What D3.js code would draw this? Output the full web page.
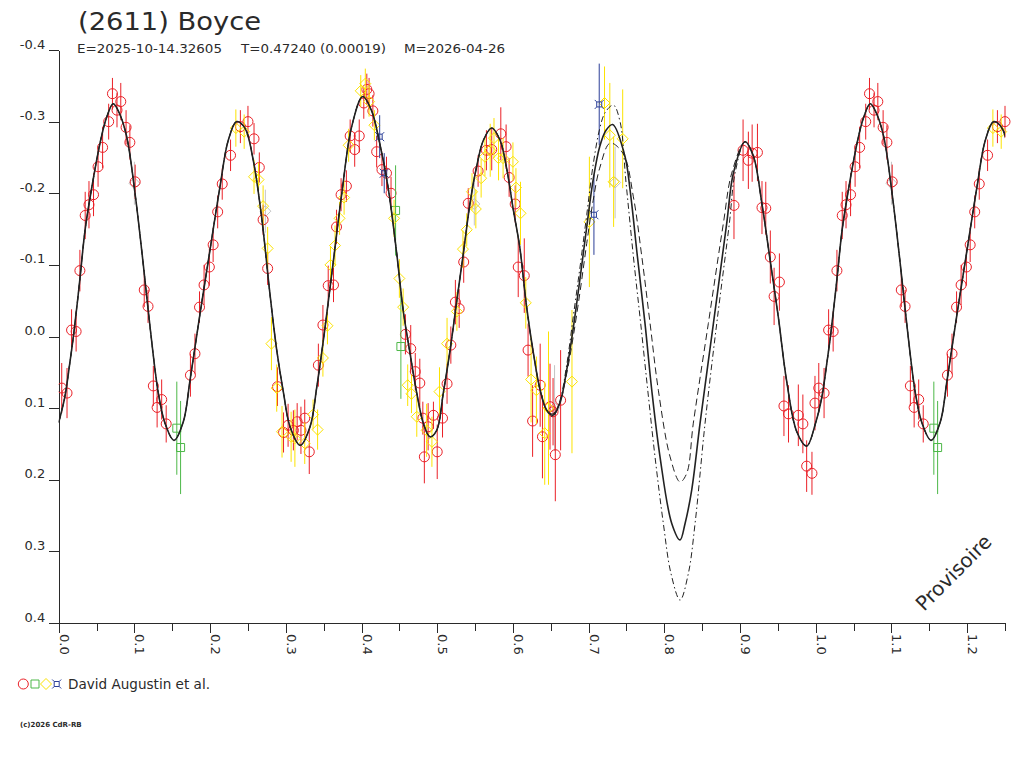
<!DOCTYPE html>
<html>
<head>
<meta charset="utf-8">
<script src="https://cdnjs.cloudflare.com/ajax/libs/d3/7.8.5/d3.min.js"></script>
<style>
  html, body { margin: 0; padding: 0; background: #fff; }
  svg { display: block; }
  text { font-family: "DejaVu Sans", "Liberation Sans", sans-serif; fill: #2a2a2a; }
</style>
</head>
<body>
<script>
// ---------------- data ----------------
const titleText = "(2611) Boyce";
const subtitleParts = ["E=2025-10-14.32605", "T=0.47240 (0.00019)", "M=2026-04-26"];
const legendText = "David Augustin et al.";
const footerText = "(c)2026 CdR-RB";
const watermark = "Provisoire";

const yTicks = [-0.4, -0.3, -0.2, -0.1, 0.0, 0.1, 0.2, 0.3, 0.4];
const yTickLabels = ["-0.4", "-0.3", "-0.2", "-0.1", "0.0", "0.1", "0.2", "0.3", "0.4"];
const xTicks = [0.0, 0.1, 0.2, 0.3, 0.4, 0.5, 0.6, 0.7, 0.8, 0.9, 1.0, 1.1, 1.2];
const xTickLabels = ["0.0", "0.1", "0.2", "0.3", "0.4", "0.5", "0.6", "0.7", "0.8", "0.9", "1.0", "1.1", "1.2"];
const xMinorTicks = [0.05, 0.15, 0.25, 0.35, 0.45, 0.55, 0.65, 0.75, 0.85, 0.95, 1.05, 1.15, 1.25];

// red circles: phase, magnitude, error
const redPhase = [0.004,0.011,0.017,0.023,0.028,0.035,0.040,0.046,0.052,0.058,0.066,0.071,0.077,0.082,0.089,0.094,0.101,0.113,0.118,0.125,0.130,0.136,0.142,0.174,0.180,0.186,0.192,0.199,0.204,0.210,0.216,0.227,0.240,0.250,0.258,0.265,0.270,0.276,0.289,0.297,0.303,0.310,0.315,0.320,0.325,0.331,0.343,0.349,0.356,0.363,0.367,0.373,0.380,0.385,0.391,0.397,0.403,0.407,0.410,0.415,0.420,0.427,0.433,0.439,0.458,0.465,0.471,0.477,0.481,0.483,0.488,0.495,0.500,0.507,0.513,0.518,0.524,0.529,0.535,0.541,0.554,0.565,0.572,0.584,0.591,0.595,0.603,0.607,0.615,0.620,0.626,0.636,0.639,0.649,0.653,0.656,0.663,0.892,0.904,0.911,0.916,0.923,0.929,0.934,0.940,0.945,0.952,0.958,0.964,0.977,0.983,0.988,0.995,0.999];
const redMag = [0.072,0.079,-0.009,-0.007,-0.092,-0.169,-0.184,-0.198,-0.237,-0.264,-0.300,-0.339,-0.316,-0.328,-0.292,-0.271,-0.216,-0.065,-0.042,0.069,0.099,0.088,0.122,0.054,0.024,-0.041,-0.072,-0.097,-0.128,-0.174,-0.213,-0.253,-0.293,-0.300,-0.276,-0.236,-0.163,-0.095,0.070,0.134,0.124,0.131,0.119,0.131,0.114,0.161,0.040,-0.016,-0.071,-0.072,-0.153,-0.198,-0.210,-0.280,-0.261,-0.280,-0.326,-0.345,-0.339,-0.315,-0.258,-0.233,-0.228,-0.200,-0.003,0.017,0.049,0.065,0.114,0.168,0.126,0.110,0.161,0.114,0.066,0.012,-0.048,-0.039,-0.104,-0.186,-0.231,-0.260,-0.261,-0.283,-0.265,-0.222,-0.185,-0.097,-0.085,0.019,0.118,0.068,0.140,0.098,0.105,0.165,0.089,-0.183,-0.260,-0.246,-0.256,-0.257,-0.180,-0.179,-0.111,-0.056,-0.076,0.097,0.108,0.110,0.122,0.181,0.191,0.093];
const redErr = [0.035,0.035,0.029,0.028,0.029,0.033,0.033,0.030,0.028,0.029,0.025,0.022,0.024,0.026,0.024,0.024,0.024,0.024,0.023,0.028,0.028,0.028,0.026,0.030,0.028,0.022,0.028,0.026,0.024,0.023,0.022,0.022,0.023,0.022,0.022,0.021,0.021,0.023,0.027,0.028,0.030,0.028,0.026,0.033,0.026,0.031,0.030,0.028,0.028,0.024,0.024,0.023,0.022,0.023,0.024,0.023,0.022,0.022,0.022,0.022,0.022,0.023,0.023,0.023,0.028,0.033,0.026,0.034,0.023,0.037,0.033,0.019,0.038,0.027,0.028,0.026,0.031,0.027,0.029,0.021,0.022,0.028,0.029,0.037,0.031,0.027,0.026,0.042,0.052,0.037,0.050,0.058,0.058,0.060,0.047,0.065,0.070,0.047,0.043,0.040,0.040,0.040,0.037,0.037,0.037,0.040,0.040,0.042,0.040,0.043,0.041,0.036,0.030,0.038];

// green squares
const greenPhase = [0.156, 0.161, 0.445, 0.452];
const greenMag = [0.128, 0.155, -0.176, 0.014];
const greenErr = [0.065, 0.065, 0.063, 0.073];

// yellow diamonds
const yellowPhase = [0.234,0.245,0.258,0.264,0.270,0.276,0.281,0.288,0.295,0.307,0.312,0.325,0.336,0.342,0.349,0.355,0.359,0.365,0.371,0.377,0.383,0.399,0.405,0.410,0.417,0.443,0.450,0.455,0.461,0.466,0.473,0.486,0.493,0.503,0.513,0.526,0.534,0.539,0.546,0.551,0.558,0.563,0.570,0.575,0.581,0.587,0.600,0.604,0.610,0.617,0.624,0.631,0.642,0.647,0.678,0.701,0.721,0.728,0.733,0.745];
const yellowMag = [-0.291,-0.286,-0.223,-0.219,-0.182,-0.123,0.010,0.072,0.133,0.140,0.142,0.149,0.109,0.130,0.030,-0.015,-0.100,-0.127,-0.165,-0.194,-0.267,-0.343,-0.353,-0.328,-0.295,-0.165,-0.081,-0.041,0.068,0.080,0.112,0.131,0.147,0.077,0.010,-0.035,-0.122,-0.149,-0.202,-0.178,-0.221,-0.251,-0.260,-0.277,-0.249,-0.249,-0.244,-0.208,-0.172,-0.047,0.060,0.075,0.135,0.100,0.063,-0.160,-0.326,-0.281,-0.216,-0.276];
const yellowErr = [0.026,0.024,0.024,0.024,0.029,0.030,0.037,0.033,0.036,0.035,0.040,0.029,0.021,0.028,0.026,0.026,0.026,0.028,0.023,0.024,0.023,0.022,0.021,0.021,0.021,0.026,0.027,0.026,0.029,0.027,0.028,0.037,0.035,0.034,0.036,0.027,0.026,0.023,0.026,0.027,0.027,0.027,0.037,0.028,0.031,0.028,0.027,0.027,0.044,0.036,0.060,0.047,0.072,0.107,0.100,0.091,0.051,0.073,0.063,0.069];

// blue stars
const bluePhase = [0.424, 0.430, 0.707, 0.714];
const blueMag = [-0.279, -0.228, -0.170, -0.324];
const blueErr = [0.030, 0.028, 0.056, 0.057];

// light grey points (not in legend)
const greyPhase = [0.100, 0.273, 0.549, 0.655, 0.735];
const greyMag = [-0.214, -0.175, -0.185, 0.100, -0.215];
const greyErr = [0.030, 0.030, 0.030, 0.060, 0.050];

// fitted curve (solid), phase / magnitude pairs
const fitPhase = [0.000,0.008,0.0143,0.020,0.028,0.035,0.046,0.0546,0.063,0.072,0.080,0.0898,0.1008,0.112,0.1206,0.1316,0.1404,0.1523,0.1646,0.1735,0.1867,0.1999,0.213,0.224,0.235,0.246,0.257,0.268,0.279,0.288,0.297,0.3056,0.319,0.332,0.341,0.352,0.363,0.374,0.387,0.4016,0.413,0.424,0.435,0.4465,0.455,0.464,0.473,0.4816,0.4905,0.4993,0.508,0.517,0.526,0.5345,0.5433,0.552,0.561,0.572,0.583,0.592,0.6005,0.609,0.618,0.627,0.636,0.6447,0.6526,0.662,0.671,0.680,0.689,0.6975,0.706,0.7146,0.723,0.7318,0.7481,0.7547,0.7644,0.7745,0.7834,0.7943,0.8098,0.8208,0.8274,0.8362,0.8472,0.8648,0.8824,0.8912,0.9066,0.9176,0.9287,0.9397,0.9506,0.9617,0.975,0.988];
const fitMag = [0.120,0.085,0.040,-0.005,-0.080,-0.150,-0.222,-0.270,-0.305,-0.325,-0.312,-0.279,-0.200,-0.098,-0.014,0.079,0.121,0.145,0.119,0.061,-0.032,-0.121,-0.209,-0.274,-0.300,-0.291,-0.246,-0.167,-0.060,0.019,0.079,0.126,0.152,0.126,0.070,-0.014,-0.107,-0.200,-0.293,-0.335,-0.316,-0.270,-0.209,-0.116,-0.037,0.023,0.079,0.121,0.140,0.131,0.079,0.019,-0.051,-0.116,-0.186,-0.237,-0.274,-0.291,-0.274,-0.233,-0.177,-0.125,-0.042,0.023,0.075,0.103,0.110,0.093,0.047,-0.014,-0.084,-0.153,-0.219,-0.265,-0.288,-0.296,-0.251,-0.205,-0.112,-0.018,0.075,0.168,0.261,0.284,0.261,0.214,0.121,-0.018,-0.158,-0.228,-0.272,-0.252,-0.187,-0.107,-0.027,0.063,0.133,0.153];

// uncertainty envelopes where they leave the fit (0.65 - 0.91)
const envLow = 0.6526, envHigh = 0.9066;
const deepPhase = [0.6526,0.662,0.671,0.680,0.689,0.6975,0.706,0.7146,0.722,0.7327,0.7415,0.7494,0.7591,0.7688,0.7781,0.7877,0.7987,0.8088,0.8208,0.8317,0.8406,0.8538,0.8692,0.8859,0.8934,0.9066];
const deepMag = [0.112,0.090,0.040,-0.030,-0.100,-0.170,-0.240,-0.290,-0.313,-0.323,-0.300,-0.215,-0.112,-0.018,0.075,0.168,0.261,0.331,0.368,0.331,0.261,0.121,-0.018,-0.158,-0.228,-0.272];
const shallowPhase = [0.6526,0.662,0.671,0.680,0.689,0.6975,0.706,0.7146,0.7285,0.7458,0.7591,0.7702,0.7812,0.7921,0.8076,0.8208,0.8296,0.8383,0.8581,0.878,0.889,0.9066];
const shallowMag = [0.108,0.092,0.052,-0.002,-0.065,-0.130,-0.190,-0.235,-0.270,-0.255,-0.195,-0.112,-0.018,0.075,0.168,0.203,0.191,0.121,-0.018,-0.158,-0.228,-0.272];

// ---------------- drawing ----------------
const W = 1024, H = 768;
const svg = d3.select("body").append("svg").attr("width", W).attr("height", H);
svg.append("rect").attr("width", W).attr("height", H).attr("fill", "#fff");

const x = d3.scaleLinear().domain([0, 1.25]).range([58.7, 1005]);
const y = d3.scaleLinear().domain([-0.4, 0.4]).range([50, 623]);

const COLORS = { red: "#ea2027", green: "#4db848", yellow: "#fce300", blue: "#2b3f98", grey: "#c4c4c4", axis: "#2a2a2a" };

svg.append("clipPath").attr("id", "plotclip").append("rect")
  .attr("x", x(0)).attr("y", y(-0.4) - 30).attr("width", x(1.25) - x(0) + 6).attr("height", y(0.4) - y(-0.4) + 30);

// title block
svg.append("text").attr("x", 78).attr("y", 30).attr("font-size", 24)
  .attr("textLength", 183).attr("lengthAdjust", "spacingAndGlyphs").text(titleText);
const subX = [77, 241, 404], subW = [145, 145, 101];
subtitleParts.forEach((t, i) => {
  svg.append("text").attr("x", subX[i]).attr("y", 53).attr("font-size", 13)
    .attr("textLength", subW[i]).attr("lengthAdjust", "spacingAndGlyphs").text(t);
});

// axes
const yAxis = svg.append("g").attr("transform", `translate(${x(0)},0)`)
  .call(d3.axisLeft(y).tickValues(yTicks).tickSize(10).tickSizeOuter(0)
    .tickFormat((d, i) => yTickLabels[i]));
yAxis.selectAll("text").attr("x", -13.5).attr("dy", "-0.15em")
  .attr("font-size", 13).attr("font-family", "DejaVu Sans").attr("fill", COLORS.axis);

const xAxisMinor = svg.append("g").attr("transform", `translate(0,${y(0.4)})`)
  .call(d3.axisBottom(x).tickValues(xMinorTicks).tickSize(8).tickSizeOuter(0).tickFormat(""));
const xAxis = svg.append("g").attr("transform", `translate(0,${y(0.4)})`)
  .call(d3.axisBottom(x).tickValues(xTicks).tickSize(10).tickSizeOuter(0)
    .tickFormat((d, i) => xTickLabels[i]));
xAxis.selectAll("text").attr("transform", "rotate(90)").attr("x", 11).attr("y", -0.5).attr("dy", 0)
  .style("text-anchor", "start").attr("font-size", 13).attr("font-family", "DejaVu Sans").attr("fill", COLORS.axis);
[yAxis, xAxis, xAxisMinor].forEach(g => {
  g.selectAll("path,line").attr("stroke", COLORS.axis).attr("stroke-width", 1).attr("shape-rendering", "crispEdges");
});

// symbol paths
const symbolPath = {
  circle: "M5,0A5,5 0 1,1 -5,0A5,5 0 1,1 5,0Z",
  square: "M-4,-4H4V4H-4Z",
  diamond: "M0,-5.5L5.5,0L0,5.5L-5.5,0Z",
  star: "M-2.5,-2.5H2.5V2.5H-2.5Z M-2.5,-2.5L-4.5,-4.5 M2.5,-2.5L4.5,-4.5 M2.5,2.5L4.5,4.5 M-2.5,2.5L-4.5,4.5"
};

function buildPoints(ph, mg, er) {
  const out = [];
  ph.forEach((p, i) => {
    out.push({ p: p, m: mg[i], e: er[i] });
    if (p + 1 <= 1.25) out.push({ p: p + 1, m: mg[i], e: er[i] });
  });
  return out;
}

const plot = svg.append("g").attr("clip-path", "url(#plotclip)");

function drawSeries(pts, color, shape) {
  const g = plot.append("g");
  g.selectAll("line").data(pts).join("line")
    .attr("x1", d => x(d.p)).attr("x2", d => x(d.p))
    .attr("y1", d => y(d.m - d.e)).attr("y2", d => y(d.m + d.e))
    .attr("stroke", color).attr("stroke-width", 1);
  g.selectAll("path").data(pts).join("path")
    .attr("d", symbolPath[shape])
    .attr("transform", d => `translate(${x(d.p)},${y(d.m)})`)
    .attr("fill", "none").attr("stroke", color).attr("stroke-width", 1);
}

drawSeries(buildPoints(greyPhase, greyMag, greyErr), COLORS.grey, "diamond");
drawSeries(buildPoints(redPhase, redMag, redErr), COLORS.red, "circle");
drawSeries(buildPoints(greenPhase, greenMag, greenErr), COLORS.green, "square");
drawSeries(buildPoints(yellowPhase, yellowMag, yellowErr), COLORS.yellow, "diamond");
drawSeries(buildPoints(bluePhase, blueMag, blueErr), COLORS.blue, "star");

// curves
function periodic(ph, mg) {
  const base = ph.map((p, i) => [p, mg[i]]);
  const copy = base.filter(d => d[0] + 1 <= 1.27).map(d => [d[0] + 1, d[1]]);
  return base.concat(copy).sort((a, b) => a[0] - b[0]);
}
const fitPts = periodic(fitPhase, fitMag);
function envelope(ph, mg) {
  const outside = fitPhase.map((p, i) => [p, fitMag[i]]).filter(d => d[0] < envLow || d[0] > envHigh);
  const inside = ph.map((p, i) => [p, mg[i]]);
  const all = outside.concat(inside).sort((a, b) => a[0] - b[0]);
  return periodic(all.map(d => d[0]), all.map(d => d[1]));
}
const deepPts = envelope(deepPhase, deepMag);
const shallowPts = envelope(shallowPhase, shallowMag);

const line = d3.line().x(d => x(d[0])).y(d => y(d[1])).curve(d3.curveCatmullRom.alpha(0.5));
svg.append("clipPath").attr("id", "curveclip").append("rect")
  .attr("x", x(0)).attr("y", y(-0.4)).attr("width", x(1.25) - x(0)).attr("height", y(0.4) - y(-0.4));
const curves = svg.append("g").attr("clip-path", "url(#curveclip)");
curves.append("path").attr("d", line(deepPts)).attr("fill", "none")
  .attr("stroke", "#222").attr("stroke-width", 1).attr("stroke-dasharray", "6,3,1.5,3");
curves.append("path").attr("d", line(shallowPts)).attr("fill", "none")
  .attr("stroke", "#222").attr("stroke-width", 1).attr("stroke-dasharray", "7,4");
curves.append("path").attr("d", line(fitPts)).attr("fill", "none")
  .attr("stroke", "#222").attr("stroke-width", 1.6);

// watermark
svg.append("text").attr("transform", "translate(924,612) rotate(-45)")
  .attr("font-size", 20).attr("fill", "#2a2a2a").text(watermark);

// legend
const legendShapes = [["circle", COLORS.red, 23.3], ["square", COLORS.green, 35], ["diamond", COLORS.yellow, 46], ["star", COLORS.blue, 56.7]];
legendShapes.forEach(s => {
  svg.append("path").attr("d", symbolPath[s[0]]).attr("transform", `translate(${s[2]},684)`)
    .attr("fill", "none").attr("stroke", s[1]).attr("stroke-width", 1);
});
svg.append("text").attr("x", 68).attr("y", 689).attr("font-size", 14)
  .attr("textLength", 142).attr("lengthAdjust", "spacingAndGlyphs").text(legendText);

// footer
svg.append("text").attr("x", 20).attr("y", 727).attr("font-size", 7).attr("font-weight", "bold").text(footerText);
</script>
</body>
</html>
